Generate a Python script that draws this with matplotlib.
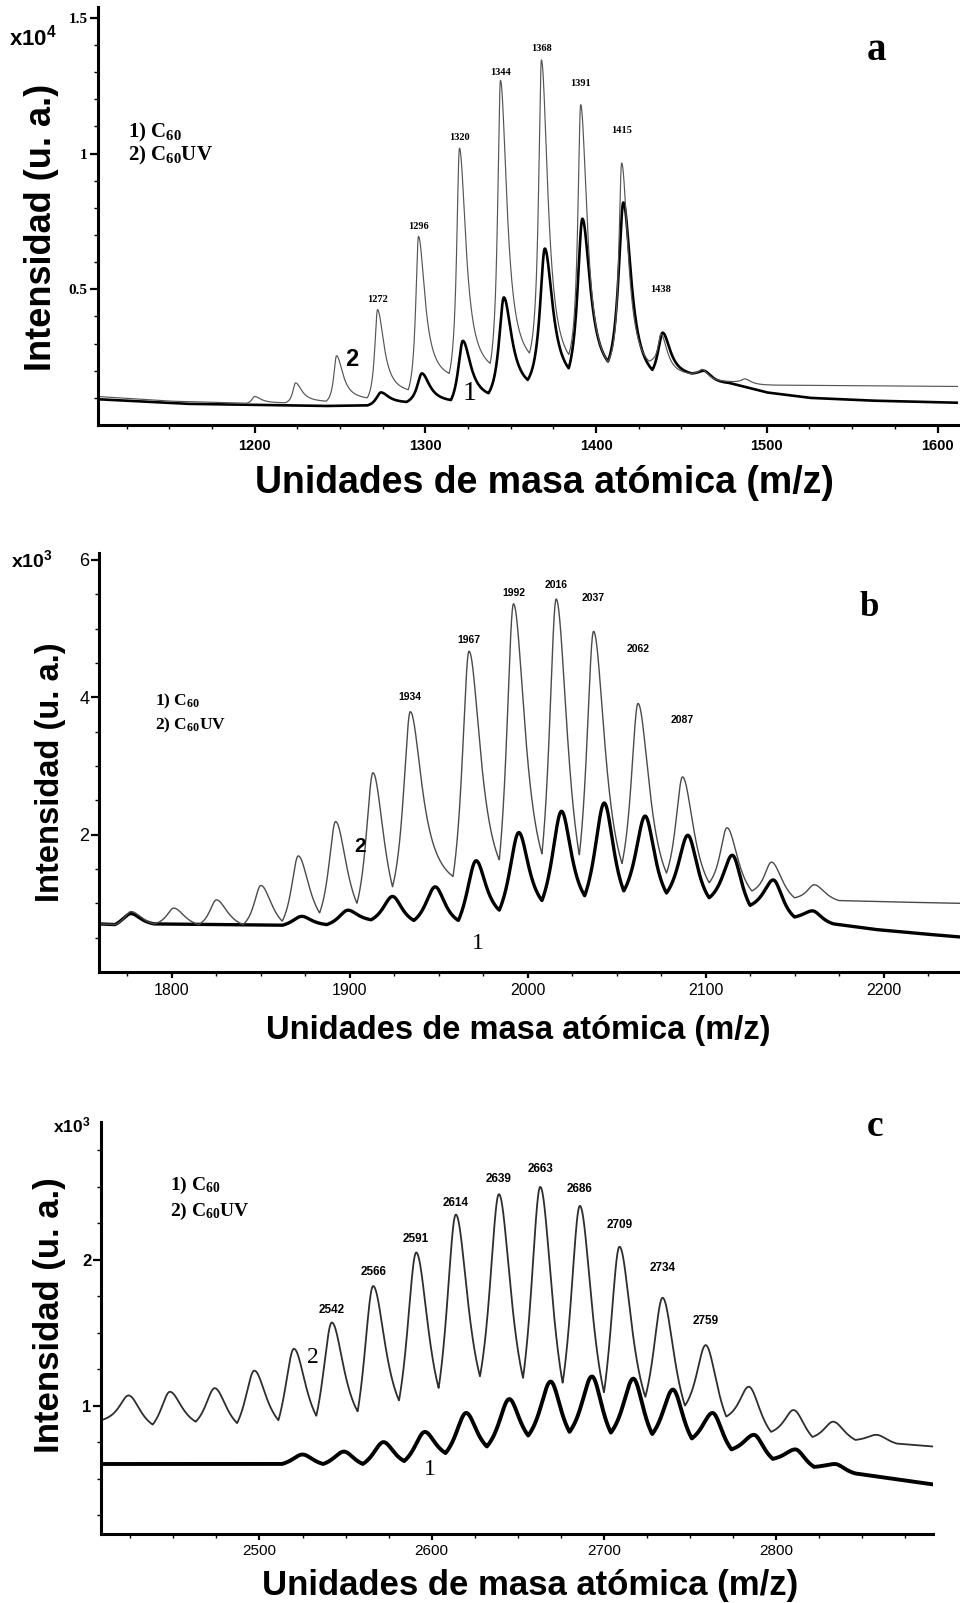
import numpy as np
import matplotlib
matplotlib.use('Agg')
import matplotlib.pyplot as plt

plt.rcParams['font.family'] = ['Liberation Sans', 'DejaVu Sans']
plt.rcParams['mathtext.default'] = 'regular'

W, H = 960, 1603

# ---- espectro a (x10^4): maximos y minimos de cada traza ----
a_pk_mz_c60uv = [1200, 1224, 1248, 1272, 1296, 1320, 1344, 1368, 1391, 1415, 1438, 1462, 1487]
a_pk_c60uv = [0.105, 0.155, 0.255, 0.425, 0.695, 1.02, 1.27, 1.345, 1.18, 0.965, 0.335, 0.205, 0.17]
a_vl_mz_c60uv = [1108, 1150, 1195, 1218, 1242, 1266, 1290, 1314, 1338, 1361, 1384, 1407, 1431, 1455, 1480, 1505, 1612]
a_vl_c60uv = [0.105, 0.088, 0.08, 0.082, 0.088, 0.10, 0.13, 0.19, 0.227, 0.265, 0.26, 0.234, 0.235, 0.19, 0.16, 0.147, 0.142]
a_pk_mz_c60 = [1274, 1298, 1322, 1346, 1370, 1392, 1416, 1439, 1463]
a_pk_c60 = [0.12, 0.19, 0.31, 0.47, 0.65, 0.76, 0.82, 0.34, 0.20]
a_vl_mz_c60 = [1108, 1160, 1240, 1266, 1289, 1315, 1337, 1360, 1384, 1407, 1433, 1456, 1478, 1500, 1525, 1560, 1612]
a_vl_c60 = [0.095, 0.078, 0.07, 0.072, 0.085, 0.092, 0.117, 0.166, 0.209, 0.234, 0.203, 0.19, 0.155, 0.12, 0.10, 0.09, 0.082]
a_labels = [1272, 1296, 1320, 1344, 1368, 1391, 1415, 1438]

# ---- espectro b (x10^3) ----
b_pk_mz_c60uv = [1777, 1801, 1825, 1850, 1871, 1892, 1913, 1934, 1967, 1992, 2016, 2037, 2062, 2087, 2112, 2137, 2161]
b_pk_c60uv = [0.88, 0.93, 1.05, 1.26, 1.69, 2.19, 2.9, 3.79, 4.67, 5.36, 5.43, 4.96, 3.91, 2.84, 2.10, 1.60, 1.27]
b_vl_mz_c60uv = [1759, 1768, 1790, 1815, 1840, 1862, 1883, 1904, 1924, 1958, 1984, 2008, 2029, 2053, 2078, 2102, 2126, 2150, 2175, 2205, 2243]
b_vl_c60uv = [0.70, 0.69, 0.70, 0.69, 0.69, 0.74, 0.86, 1.0, 1.24, 1.39, 1.63, 1.72, 1.70, 1.58, 1.44, 1.30, 1.18, 1.08, 1.04, 1.02, 1.0]
b_pk_mz_c60 = [1777, 1873, 1899, 1924, 1948, 1971, 1995, 2019, 2043, 2066, 2090, 2115, 2138, 2160]
b_pk_c60 = [0.85, 0.81, 0.90, 1.10, 1.24, 1.62, 2.03, 2.34, 2.46, 2.27, 1.99, 1.70, 1.34, 0.89]
b_vl_mz_c60 = [1759, 1768, 1790, 1862, 1887, 1912, 1936, 1961, 1984, 2008, 2032, 2054, 2078, 2102, 2125, 2150, 2172, 2195, 2220, 2243]
b_vl_c60 = [0.70, 0.69, 0.70, 0.68, 0.69, 0.76, 0.75, 0.75, 0.90, 1.04, 1.11, 1.18, 1.15, 1.08, 0.97, 0.80, 0.70, 0.62, 0.56, 0.51]
b_labels = [1934, 1967, 1992, 2016, 2037, 2062, 2087]

# ---- espectro c (x10^3) ----
c_pk_mz_c60uv = [2424, 2448, 2474, 2497, 2520, 2542, 2566, 2591, 2614, 2639, 2663, 2686, 2709, 2734, 2759, 2784, 2810, 2833, 2858]
c_pk_c60uv = [1.07, 1.095, 1.12, 1.24, 1.39, 1.57, 1.82, 2.05, 2.31, 2.45, 2.50, 2.37, 2.09, 1.74, 1.415, 1.13, 0.97, 0.89, 0.80]
c_vl_mz_c60uv = [2408, 2438, 2463, 2487, 2511, 2533, 2557, 2581, 2604, 2628, 2653, 2676, 2700, 2724, 2747, 2771, 2797, 2821, 2846, 2870, 2891]
c_vl_c60uv = [0.90, 0.87, 0.89, 0.88, 0.90, 0.93, 0.96, 1.035, 1.12, 1.20, 1.19, 1.155, 1.09, 1.06, 1.0, 0.925, 0.82, 0.785, 0.765, 0.74, 0.72]
c_pk_mz_c60 = [2525, 2549, 2572, 2596, 2620, 2645, 2669, 2693, 2717, 2740, 2763, 2787, 2811, 2834]
c_pk_c60 = [0.665, 0.685, 0.75, 0.82, 0.95, 1.045, 1.165, 1.20, 1.185, 1.11, 0.95, 0.80, 0.70, 0.60]
c_vl_mz_c60 = [2408, 2513, 2537, 2560, 2584, 2608, 2632, 2656, 2680, 2704, 2728, 2751, 2774, 2798, 2822, 2846, 2891]
c_vl_c60 = [0.60, 0.60, 0.60, 0.60, 0.62, 0.675, 0.72, 0.795, 0.82, 0.815, 0.805, 0.775, 0.70, 0.635, 0.58, 0.535, 0.46]
c_labels = [2542, 2566, 2591, 2614, 2639, 2663, 2686, 2709, 2734, 2759]


def lor(u):
    return 1.0 / (1.0 + u ** 2)


def trace(x, pk_mz, pk_val, vl_mz, vl_val, hw_up, hw_down):
    # une minimos y maximos; flancos con forma lorentziana
    pts = sorted([(m, v, True) for m, v in zip(pk_mz, pk_val)] +
                 [(m, v, False) for m, v in zip(vl_mz, vl_val)])
    y = np.interp(x, [p[0] for p in pts], [p[1] for p in pts])
    for (x0, y0, p0), (x1, y1, p1) in zip(pts[:-1], pts[1:]):
        sel = (x >= x0) & (x <= x1)
        xs = x[sel]
        if p1 and not p0:
            U = (x1 - x0) / hw_up
            f = (lor((x1 - xs) / hw_up) - lor(U)) / (1 - lor(U))
            y[sel] = y0 + (y1 - y0) * f
        elif p0 and not p1:
            U = (x1 - x0) / hw_down
            f = (lor((xs - x0) / hw_down) - lor(U)) / (1 - lor(U))
            y[sel] = y1 + (y0 - y1) * f
    return y


def px_axes(left, top, right, bottom):
    return fig.add_axes([left / W, 1 - bottom / H, (right - left) / W, (bottom - top) / H])


def style(ax):
    for s in ['top', 'right']:
        ax.spines[s].set_visible(False)
    for s in ['left', 'bottom']:
        ax.spines[s].set_linewidth(2.2)
    ax.tick_params(which='major', direction='out', length=6, width=1.6)
    ax.tick_params(which='minor', direction='out', length=3, width=1.0)


def peak_labels(ax, labels, mz, inten, offsets, **kw):
    for lab, dy in zip(labels, offsets):
        top = inten[mz.index(lab)]
        ax.annotate(str(lab), (lab, top), xytext=(0, dy), textcoords='offset pixels',
                    ha='center', va='center', **kw)


fig = plt.figure(figsize=(W / 100, H / 100), dpi=100)
serif = ['Liberation Serif', 'DejaVu Serif']

# ================= a =================
ax = px_axes(97.5, 7, 958, 425)
style(ax)
x = np.linspace(1108, 1612, 6000)
ax.plot(x, trace(x, a_pk_mz_c60, a_pk_c60, a_vl_mz_c60, a_vl_c60, 3.5, 5.5),
        color='black', lw=1.9)
ax.plot(x, trace(x, a_pk_mz_c60uv, a_pk_c60uv, a_vl_mz_c60uv, a_vl_c60uv, 2.0, 4.5),
        color='#555555', lw=0.85)
ax.set_xlim(1108, 1612)
ax.set_ylim(0, 1.54)
ax.set_xticks([1200, 1300, 1400, 1500, 1600])
ax.set_xticks(np.arange(1125, 1612, 25), minor=True)
ax.set_yticks([0.5, 1, 1.5])
ax.set_yticklabels(['0.5', '1', '1.5'])
ax.set_yticks(np.arange(0.1, 1.54, 0.1), minor=True)
ax.tick_params(axis='x', labelsize=10.5, pad=4)
ax.tick_params(axis='y', labelsize=11, pad=1)
for t in ax.get_xticklabels():
    t.set_fontweight('bold')
for t in ax.get_yticklabels():
    t.set_family(serif)
    t.set_fontweight('bold')
peak_labels(ax, a_labels, a_pk_mz_c60uv, a_pk_c60uv, [10, 10, 11, 8, 11, 21, 33, 45],
            fontsize=7.5, family=serif, fontweight='bold')
ax.text(1326, 0.115, '1', fontsize=20, family=serif, ha='center', va='center')
ax.text(1257, 0.24, '2', fontsize=17, fontweight='bold', ha='center', va='center')
ax.text(0.035, 0.70, '1) C$_{60}$', transform=ax.transAxes, fontsize=15, family=serif,
        fontweight='bold', va='center')
ax.text(0.035, 0.645, '2) C$_{60}$UV', transform=ax.transAxes, fontsize=15, family=serif,
        fontweight='bold', va='center')
ax.text(0.905, 0.895, 'a', transform=ax.transAxes, fontsize=28, family=serif,
        fontweight='bold', ha='center', va='center')
fig.text(33 / W, 1 - 38 / H, 'x10$^{4}$', fontsize=16, fontweight='bold', ha='center', va='center')
fig.text(42 / W, 1 - 227 / H, 'Intensidad (u. a.)', rotation=90, fontsize=26,
         fontweight='bold', ha='center', va='center')
fig.text(544 / W, 1 - 483 / H, 'Unidades de masa atómica (m/z)', fontsize=27,
         fontweight='bold', ha='center', va='center')

# ================= b =================
ax = px_axes(99, 553, 960, 972)
style(ax)
x = np.linspace(1759, 2243, 6000)
ax.plot(x, trace(x, b_pk_mz_c60, b_pk_c60, b_vl_mz_c60, b_vl_c60, 7.0, 7.0),
        color='black', lw=2.4)
ax.plot(x, trace(x, b_pk_mz_c60uv, b_pk_c60uv, b_vl_mz_c60uv, b_vl_c60uv, 5.0, 8.0),
        color='#4a4a4a', lw=1.0)
ax.set_xlim(1759, 2243)
ax.set_ylim(0, 6.1)
ax.set_xticks([1800, 1900, 2000, 2100, 2200])
ax.set_xticks(np.arange(1775, 2243, 25), minor=True)
ax.set_yticks([2, 4, 6])
ax.set_yticks(np.arange(0.5, 6.1, 0.5), minor=True)
ax.tick_params(axis='x', labelsize=11.5, pad=4, length=4)
ax.tick_params(axis='y', labelsize=13, pad=1)
peak_labels(ax, b_labels, b_pk_mz_c60uv, b_pk_c60uv, [15, 11, 11, 14, 33, 54, 57],
            fontsize=7.5, fontweight='bold')
ax.text(1906, 1.82, '2', fontsize=15, fontweight='bold', ha='center', va='center')
ax.text(1972, 0.42, '1', fontsize=17, family=serif, ha='center', va='center')
ax.text(0.065, 0.645, '1) C$_{60}$', transform=ax.transAxes, fontsize=12.5, family=serif,
        fontweight='bold', va='center')
ax.text(0.065, 0.588, '2) C$_{60}$UV', transform=ax.transAxes, fontsize=12.5, family=serif,
        fontweight='bold', va='center')
ax.text(0.895, 0.87, 'b', transform=ax.transAxes, fontsize=25, family=serif,
        fontweight='bold', ha='center', va='center')
fig.text(32 / W, 1 - 560 / H, 'x10$^{3}$', fontsize=14, fontweight='bold', ha='center', va='center')
fig.text(50 / W, 1 - 772 / H, 'Intensidad (u. a.)', rotation=90, fontsize=23.5,
         fontweight='bold', ha='center', va='center')
fig.text(518 / W, 1 - 1031 / H, 'Unidades de masa atómica (m/z)', fontsize=23.5,
         fontweight='bold', ha='center', va='center')

# ================= c =================
ax = px_axes(101, 1122, 933, 1534)
style(ax)
x = np.linspace(2408, 2891, 6000)
ax.plot(x, trace(x, c_pk_mz_c60, c_pk_c60, c_vl_mz_c60, c_vl_c60, 8.0, 8.0),
        color='black', lw=2.8)
ax.plot(x, trace(x, c_pk_mz_c60uv, c_pk_c60uv, c_vl_mz_c60uv, c_vl_c60uv, 7.0, 9.0),
        color='#2e2e2e', lw=1.3)
ax.set_xlim(2408, 2891)
ax.set_ylim(0.12, 2.945)
ax.set_xticks([2500, 2600, 2700, 2800])
ax.set_xticks(np.arange(2425, 2891, 25), minor=True)
ax.set_yticks([1, 2])
ax.set_yticks(np.arange(0.25, 2.945, 0.25), minor=True)
ax.tick_params(axis='x', labelsize=11, pad=3, length=4)
ax.tick_params(axis='y', labelsize=12, pad=1)
for t in ax.get_yticklabels():
    t.set_fontweight('bold')
peak_labels(ax, c_labels, c_pk_mz_c60uv, c_pk_c60uv, [13, 14, 14, 12, 15, 18, 17, 22, 30, 24],
            fontsize=8.5, fontweight='bold')
ax.text(2531, 1.33, '2', fontsize=17, family=serif, ha='center', va='center')
ax.text(2599, 0.56, '1', fontsize=17, family=serif, ha='center', va='center')
ax.text(0.083, 0.845, '1) C$_{60}$', transform=ax.transAxes, fontsize=14, family=serif,
        fontweight='bold', va='center')
ax.text(0.083, 0.784, '2) C$_{60}$UV', transform=ax.transAxes, fontsize=14, family=serif,
        fontweight='bold', va='center')
ax.text(0.93, 0.99, 'c', transform=ax.transAxes, fontsize=27, family=serif,
        fontweight='bold', ha='center', va='center')
fig.text(72 / W, 1 - 1125 / H, 'x10$^{3}$', fontsize=12.5, fontweight='bold', ha='center', va='center')
fig.text(50 / W, 1 - 1315 / H, 'Intensidad (u. a.)', rotation=90, fontsize=25,
         fontweight='bold', ha='center', va='center')
fig.text(530 / W, 1 - 1586 / H, 'Unidades de masa atómica (m/z)', fontsize=25,
         fontweight='bold', ha='center', va='center')

fig.savefig('out.png', dpi=100)
